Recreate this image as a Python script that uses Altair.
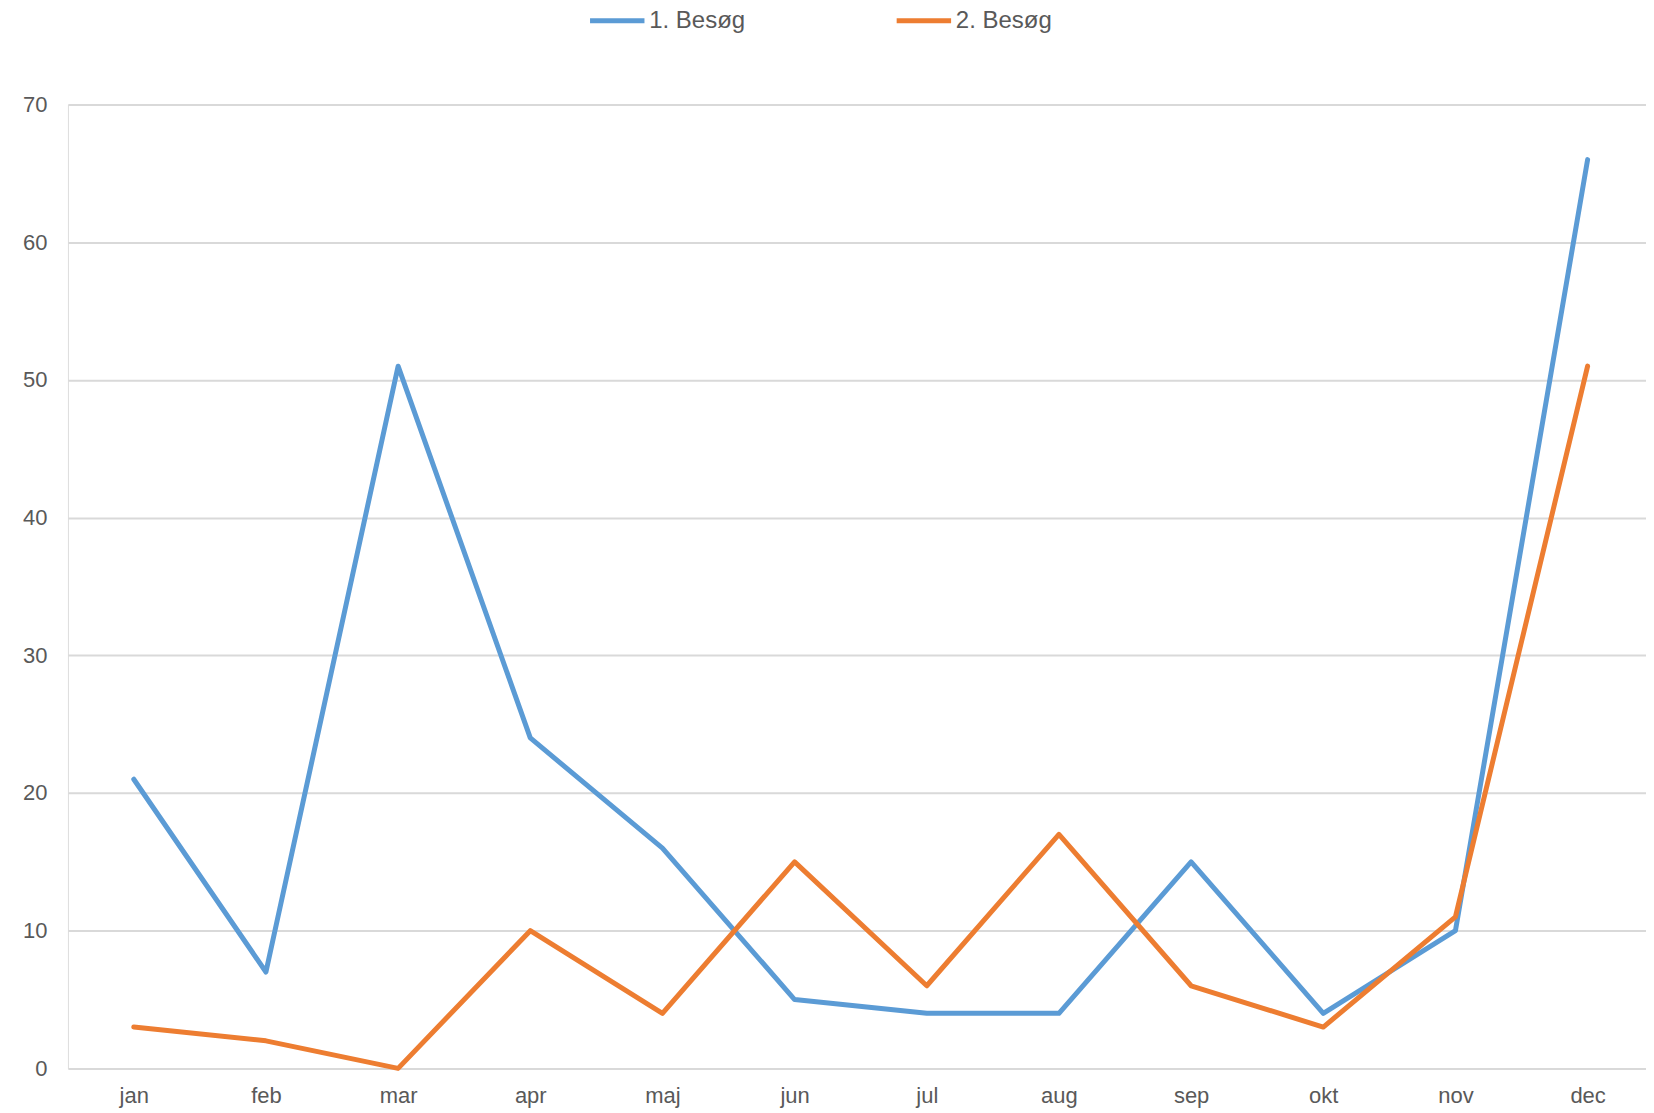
import altair as alt
import pandas as pd

months = ["jan", "feb", "mar", "apr", "maj", "jun", "jul", "aug", "sep", "okt", "nov", "dec"]
besoeg1 = [21, 7, 51, 24, 16, 5, 4, 4, 15, 4, 10, 66]
besoeg2 = [3, 2, 0, 10, 4, 15, 6, 17, 6, 3, 11, 51]
series_names = ["1. Besøg", "2. Besøg"]
series_colors = ["#5b9bd5", "#ed7d31"]

rows = []
for i, m in enumerate(months):
    rows.append({"month": m, "serie": series_names[0], "value": besoeg1[i], "order": i})
    rows.append({"month": m, "serie": series_names[1], "value": besoeg2[i], "order": i})
df = pd.DataFrame(rows)

FONT = "Liberation Sans"
TEXT = "#595959"

chart = (
    alt.Chart(df)
    .mark_line(strokeWidth=5, strokeCap="round", strokeJoin="round")
    .encode(
        x=alt.X(
            "month:N",
            sort=months,
            scale=alt.Scale(type="point", padding=0.47, align=0.53),
            axis=alt.Axis(
                title=None, labelAngle=0, ticks=False, domain=False, grid=False,
                labelFont=FONT, labelFontSize=22, labelColor=TEXT,
                labelPadding=17, labelBaseline="top",
            ),
        ),
        y=alt.Y(
            "value:Q",
            scale=alt.Scale(domain=[0, 70], nice=False),
            axis=alt.Axis(
                title=None, values=[0, 10, 20, 30, 40, 50, 60, 70], ticks=False,
                domain=False, grid=True, gridColor="#d9d9d9", gridWidth=2,
                labelFont=FONT, labelFontSize=22, labelColor=TEXT, labelPadding=21,
            ),
        ),
        color=alt.Color(
            "serie:N",
            scale=alt.Scale(domain=series_names, range=series_colors),
            legend=alt.Legend(
                title=None, orient="none", direction="horizontal",
                legendX=520, legendY=-114, padding=0,
                symbolType="stroke", symbolSize=2970, symbolStrokeWidth=5,
                labelFont=FONT, labelFontSize=24, labelColor=TEXT,
                labelOffset=2, columnPadding=140,
            ),
        ),
        order="order:Q",
    )
    .properties(
        width=1580, height=965,
        autosize=alt.AutoSizeParams(type="none"),
        padding={"left": 60, "top": 96, "right": 0, "bottom": 40},
    )
    .configure_view(stroke=None)
    .configure(background="white")
)

chart.save("out.html", embed_options={"renderer": "svg", "actions": False})
